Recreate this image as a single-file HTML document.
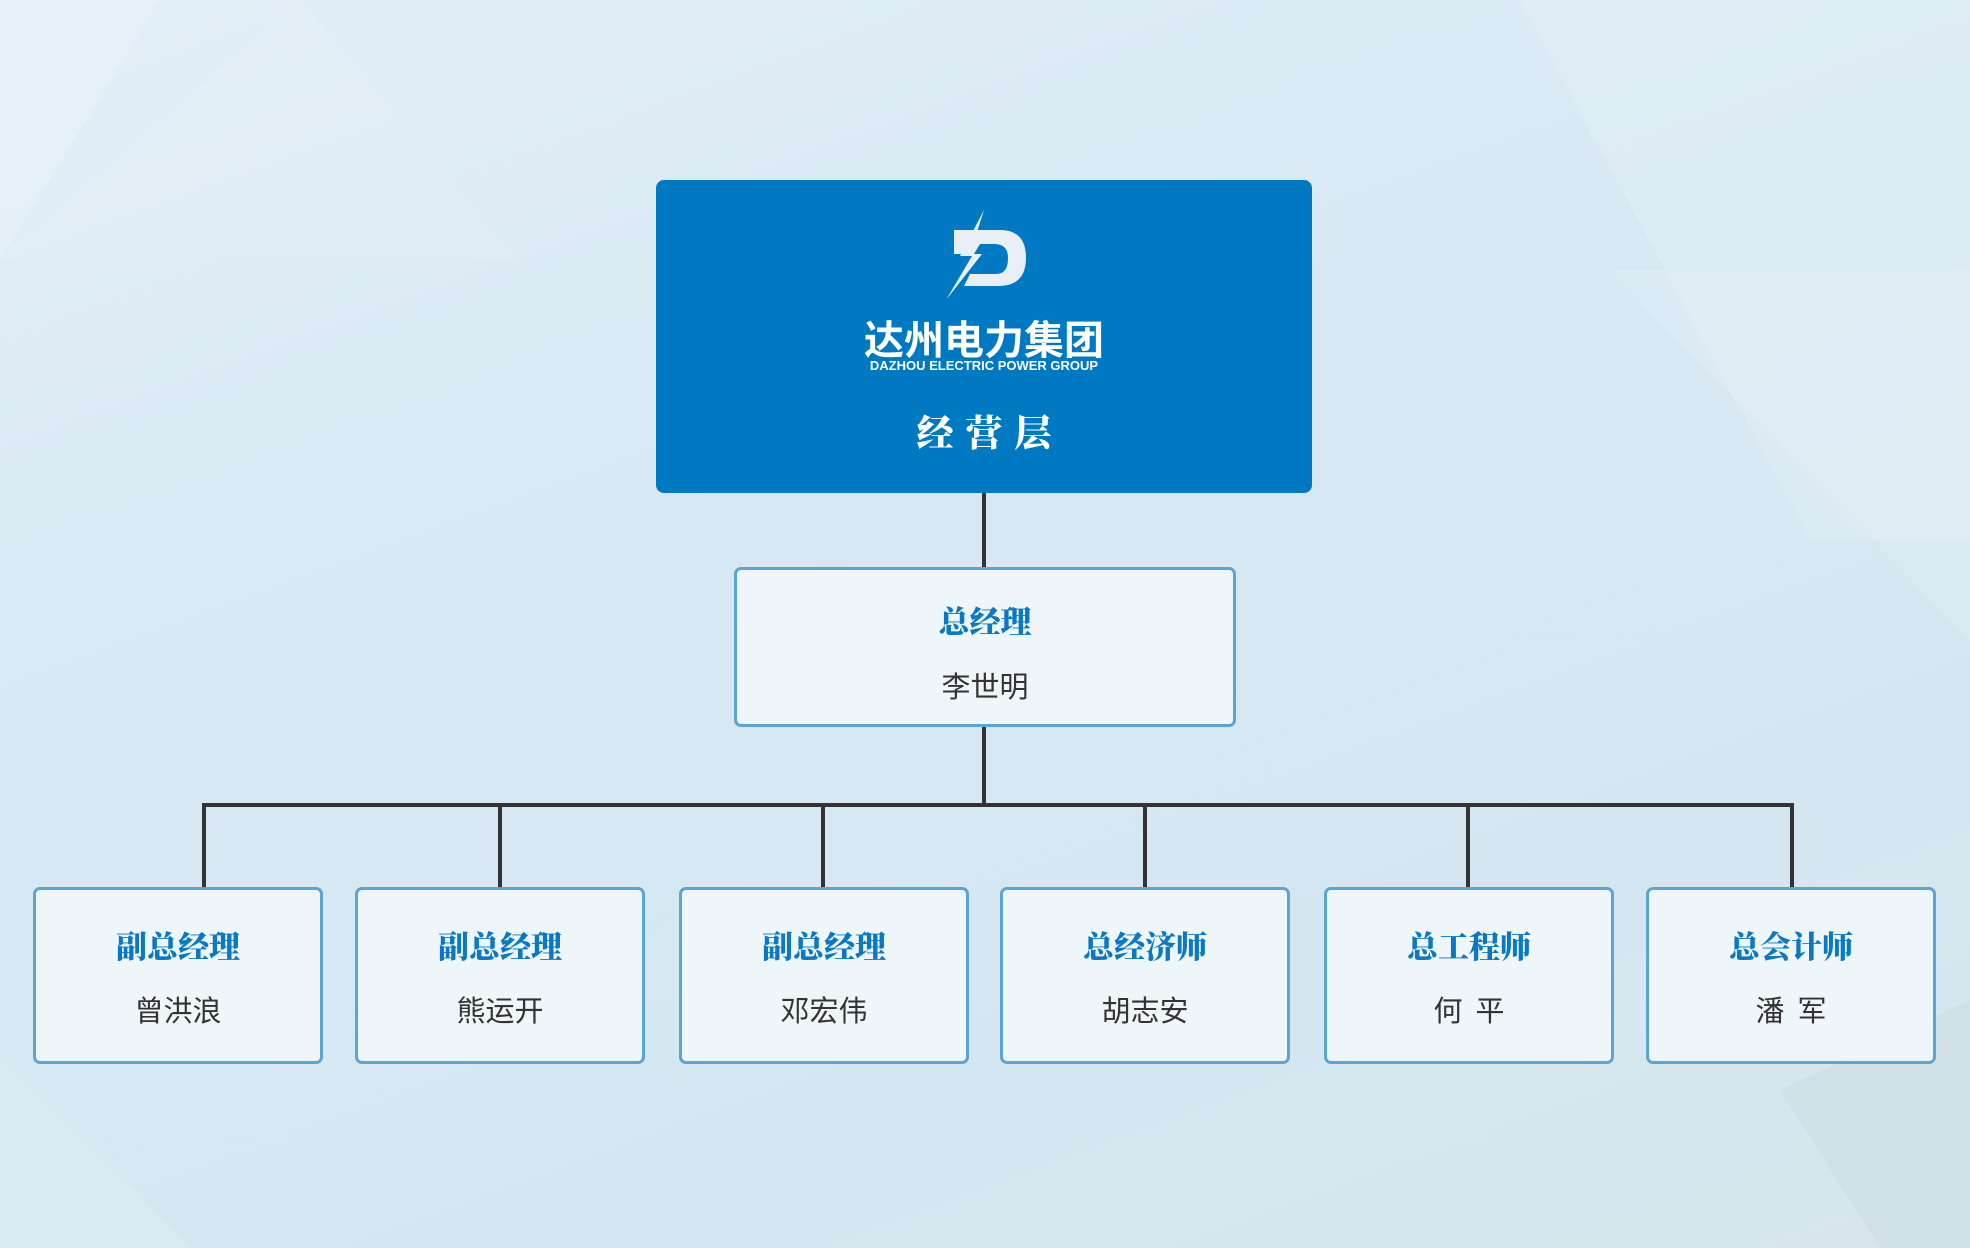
<!DOCTYPE html>
<html><head><meta charset="utf-8"><style>
*{margin:0;padding:0;box-sizing:border-box}
body{width:1970px;height:1248px;overflow:hidden;position:relative;background:linear-gradient(160deg,#e3eef7 0%,#d8e8f3 40%,#d4e7f0 75%,#d8e6ec 100%);font-family:"Liberation Sans","Noto Sans CJK SC",sans-serif}
.top{position:absolute;left:656px;top:180px;width:656px;height:313px;background:#0079c3;border-radius:8px;color:#fff;text-align:center}
.box{position:absolute;border:3px solid #5aa5d6;border-radius:7px;background:rgba(242,248,252,.85);text-align:center}
.t{font-family:"Noto Serif CJK SC",serif;font-weight:900;color:#0a78c2;font-size:31px;position:absolute;left:0;right:0}
.n{color:#333;font-size:29px;position:absolute;left:0;right:0;font-family:"Noto Sans CJK SC",sans-serif}
.l{position:absolute;background:#333}
</style></head><body>
<svg style="position:absolute;left:0;top:0" width="1970" height="1248">
<polygon points="0,0 160,0 0,260" fill="#fff" opacity=".18"/>
<polygon points="1520,0 1970,0 1970,540 1810,540" fill="#fff" opacity=".15"/>
<polygon points="1610,270 1970,270 1970,640" fill="#fff" opacity=".12"/>
<polygon points="0,260 520,260 300,0" fill="#fff" opacity=".07"/>
<polygon points="1780,1090 1970,1000 1970,1248 1880,1248" fill="#c8d6dc" opacity=".35"/>
<polygon points="0,1060 190,1248 0,1248" fill="#fff" opacity=".12"/>
</svg>
<div class="l" style="left:982px;top:493px;width:4px;height:74px"></div>
<div class="l" style="left:982px;top:727px;width:4px;height:78px"></div>
<div class="l" style="left:202px;top:803px;width:1592px;height:4px"></div>
<div class="l" style="left:202px;top:803px;width:4px;height:84px"></div>
<div class="l" style="left:498px;top:803px;width:4px;height:84px"></div>
<div class="l" style="left:821px;top:803px;width:4px;height:84px"></div>
<div class="l" style="left:1143px;top:803px;width:4px;height:84px"></div>
<div class="l" style="left:1466px;top:803px;width:4px;height:84px"></div>
<div class="l" style="left:1790px;top:803px;width:4px;height:84px"></div>
<div class="top">
<svg style="position:absolute;left:284px;top:28px" width="90" height="90" viewBox="0 0 90 90">
<path d="M14,22 L60,22 Q86,22 86,50 Q86,78 58,78 L24,78 L30,66 L56,66 Q68,66 68,50 Q68,36 54,36 L40,36 L34,46 L14,46 Z" fill="#e8eff5"/>
<path d="M44,2 L20,48 L32,48 L6,92 L42,46 L30,46 Z" fill="#e8eff5"/>
</svg>
<div style="position:absolute;left:0;right:0;top:137px;font-size:40px;font-weight:bold;line-height:48px">达州电力集团</div>
<div style="position:absolute;left:0;right:0;top:179px;font-size:13px;font-weight:bold;line-height:14px">DAZHOU ELECTRIC POWER GROUP</div>
<div style="position:absolute;left:0;right:0;top:225px;font-size:37px;font-weight:900;font-family:'Noto Serif CJK SC',serif;letter-spacing:12px;line-height:50px;padding-left:12px">经营层</div>
</div>
<div class="box" style="left:734px;top:567px;width:502px;height:160px">
<div class="t" style="top:27px">总经理</div><div class="n" style="top:94px">李世明</div></div>
<div class="box" style="left:33px;top:887px;width:290px;height:177px"><div class="t" style="top:32px">副总经理</div><div class="n" style="top:98px">曾洪浪</div></div>
<div class="box" style="left:355px;top:887px;width:290px;height:177px"><div class="t" style="top:32px">副总经理</div><div class="n" style="top:98px">熊运开</div></div>
<div class="box" style="left:679px;top:887px;width:290px;height:177px"><div class="t" style="top:32px">副总经理</div><div class="n" style="top:98px">邓宏伟</div></div>
<div class="box" style="left:1000px;top:887px;width:290px;height:177px"><div class="t" style="top:32px">总经济师</div><div class="n" style="top:98px">胡志安</div></div>
<div class="box" style="left:1324px;top:887px;width:290px;height:177px"><div class="t" style="top:32px">总工程师</div><div class="n" style="top:98px">何&nbsp;&nbsp;平</div></div>
<div class="box" style="left:1646px;top:887px;width:290px;height:177px"><div class="t" style="top:32px">总会计师</div><div class="n" style="top:98px">潘&nbsp;&nbsp;军</div></div>
</body></html>
